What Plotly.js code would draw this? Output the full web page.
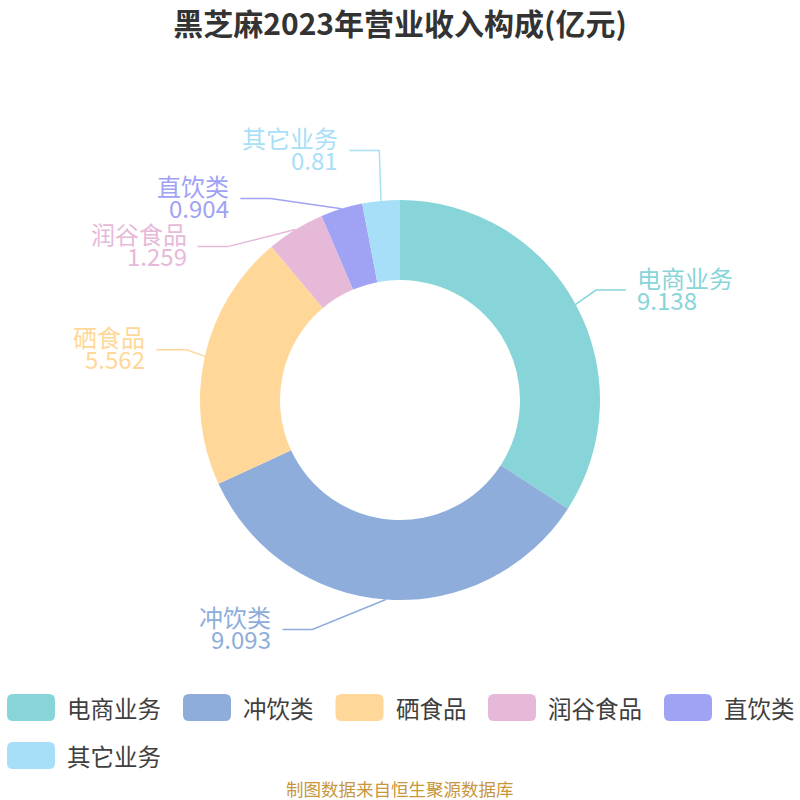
<!DOCTYPE html>
<html>
<head>
<meta charset="utf-8">
<script src="https://cdn.plot.ly/plotly-3.0.1.min.js"></script>
<style>
  html, body { margin: 0; padding: 0; background: #ffffff; }
  #chart { width: 800px; height: 800px; }
</style>
</head>
<body>
<div id="chart"></div>
<script>
// 黑芝麻 2023 revenue breakdown (亿元)
const categories = ['电商业务', '冲饮类', '硒食品', '润谷食品', '直饮类', '其它业务'];
const revenue = [9.138, 9.093, 5.562, 1.259, 0.904, 0.81];
const sliceColors = ['#87D5D9', '#8EADDB', '#FFD899', '#E7B9D9', '#A0A2F4', '#A8DFF8'];

const chartTitle = '黑芝麻2023年营业收入构成(亿元)';
const sourceNote = '制图数据来自恒生聚源数据库';

// ---- page geometry (pixels) ----
const W = 800, H = 800;
const CX = 400, CY = 400, R = 200;      // pie centre and outer radius
const FONT = '"Noto Sans CJK SC", "Noto Sans", sans-serif';
const LABEL_SIZE = 24, LEGEND_SIZE = 23.5;

// ---- label placement: start on the slice edge at its mid angle,
//      bend at an elbow, then run horizontally towards the text ----
const total = revenue.reduce((a, b) => a + b, 0);
let acc = 0;
const items = revenue.map((v, i) => {
  const mid = (acc + v / 2) / total * 2 * Math.PI;   // clockwise from 12 o'clock
  acc += v;
  const side = Math.sin(mid) >= 0 ? 1 : -1;
  return {
    i, mid, side,
    sx: CX + R * Math.sin(mid),
    sy: CY - R * Math.cos(mid),
    y: CY - (R + 30) * Math.cos(mid),
    dx0: (R + 18) * Math.sin(mid)
  };
});

// keep labels on each side from overlapping
const GAP = 48;
[-1, 1].forEach(side => {
  const list = items.filter(it => it.side === side).sort((a, b) => a.y - b.y);
  let totalShift = 0;
  const moved = new Set();
  for (let k = 1; k < list.length; k++) {
    const need = list[k - 1].y + GAP - list[k].y;
    if (need > 0) {
      list[k].y += need;
      totalShift += need;
      moved.add(list[k - 1]); moved.add(list[k]);
    }
  }
  if (totalShift > 0) {
    const back = totalShift / list.length;
    moved.forEach(it => { it.y -= back; });
  }
});

// elbows follow an ellipse around the pie
const rA = R + 18;
let rB = rA;
items.forEach(it => {
  const dy = Math.abs(it.y - CY);
  const f = 1 - (it.dx0 / rA) * (it.dx0 / rA);
  if (f > 0) rB = Math.max(rB, dy / Math.sqrt(f));
});
items.forEach(it => {
  const dy = it.y - CY;
  const f = Math.max(0, 1 - dy * dy / (rB * rB));
  it.ex = CX + it.side * rA * Math.sqrt(f);
  it.tx = it.ex + it.side * 30;
});

// ---- traces ----
const traces = [{
  type: 'pie',
  labels: categories,
  values: revenue,
  marker: { colors: sliceColors, line: { width: 0 } },
  hole: 0.6,
  sort: false,
  direction: 'clockwise',
  rotation: 0,
  textinfo: 'none',
  hoverinfo: 'none',
  showlegend: false,
  domain: { x: [(CX - R) / W, (CX + R) / W], y: [1 - (CY + R) / H, 1 - (CY - R) / H] }
}];

items.forEach(it => {
  traces.push({
    type: 'scatter', mode: 'lines',
    x: [it.sx, it.ex, it.tx],
    y: [it.sy, it.y, it.y],
    line: { color: sliceColors[it.i], width: 1.5 },
    hoverinfo: 'skip', showlegend: false, xaxis: 'x', yaxis: 'y'
  });
});

const annotations = [];
const shapes = [];

// two stacked lines per slice: name above, value below
items.forEach(it => {
  const anchor = it.side > 0 ? 'left' : 'right';
  const x = it.tx + it.side * 10;
  annotations.push({
    xref: 'x', yref: 'y', x: x, y: it.y - 13,
    text: categories[it.i], showarrow: false,
    xanchor: anchor, yanchor: 'middle', borderpad: 0,
    font: { family: FONT, size: LABEL_SIZE, color: sliceColors[it.i] }
  });
  annotations.push({
    xref: 'x', yref: 'y', x: x, y: it.y + 9,
    text: String(revenue[it.i]), showarrow: false,
    xanchor: anchor, yanchor: 'middle', borderpad: 0,
    font: { family: FONT, size: LABEL_SIZE, color: sliceColors[it.i] }
  });
});

// ---- legend: rounded swatches with names, wrapping onto new rows ----
const ctx = document.createElement('canvas').getContext('2d');
ctx.font = LEGEND_SIZE + 'px ' + FONT;
function textWidth(s) {
  const w = ctx.measureText(s).width;
  return w > 0 ? w : s.length * LEGEND_SIZE;
}
function roundRect(x, y, w, h, r) {
  return `M${x + r},${y} H${x + w - r} Q${x + w},${y} ${x + w},${y + r} V${y + h - r} ` +
         `Q${x + w},${y + h} ${x + w - r},${y + h} H${x + r} Q${x},${y + h} ${x},${y + h - r} ` +
         `V${y + r} Q${x},${y} ${x + r},${y} Z`;
}
const SW = 48, SH = 27, SR = 6, TEXT_GAP = 11, ITEM_GAP = 23;
let lx = 7, rowY = 707.5;
categories.forEach((name, i) => {
  const tw = textWidth(name);
  if (lx + SW + TEXT_GAP + tw > W) { lx = 7; rowY += 48; }
  shapes.push({
    type: 'path', xref: 'x', yref: 'y',
    path: roundRect(lx, rowY - SH / 2, SW, SH, SR),
    fillcolor: sliceColors[i], line: { width: 0 }
  });
  annotations.push({
    xref: 'x', yref: 'y', x: lx + SW + TEXT_GAP, y: rowY,
    text: name, showarrow: false, xanchor: 'left', yanchor: 'middle', borderpad: 0,
    font: { family: FONT, size: LEGEND_SIZE, color: '#404040' }
  });
  lx += SW + TEXT_GAP + tw + ITEM_GAP;
});

annotations.push({
  xref: 'x', yref: 'y', x: W / 2, y: 788,
  text: sourceNote, showarrow: false, xanchor: 'center', yanchor: 'middle', borderpad: 0,
  font: { family: FONT, size: 17.5, color: '#C8963C' }
});

const layout = {
  width: W, height: H,
  margin: { l: 0, r: 0, t: 0, b: 0 },
  paper_bgcolor: '#ffffff', plot_bgcolor: 'rgba(0,0,0,0)',
  showlegend: false,
  title: {
    text: chartTitle,
    x: 0.5, xanchor: 'center', xref: 'container',
    y: 1 - 24 / H, yanchor: 'middle', yref: 'container',
    font: { family: FONT, size: 30, color: '#333333', weight: 'bold' }
  },
  xaxis: { range: [0, W], visible: false, fixedrange: true },
  yaxis: { range: [H, 0], visible: false, fixedrange: true },
  annotations: annotations,
  shapes: shapes
};

Plotly.newPlot('chart', traces, layout, { staticPlot: true, displayModeBar: false });
</script>
</body>
</html>
